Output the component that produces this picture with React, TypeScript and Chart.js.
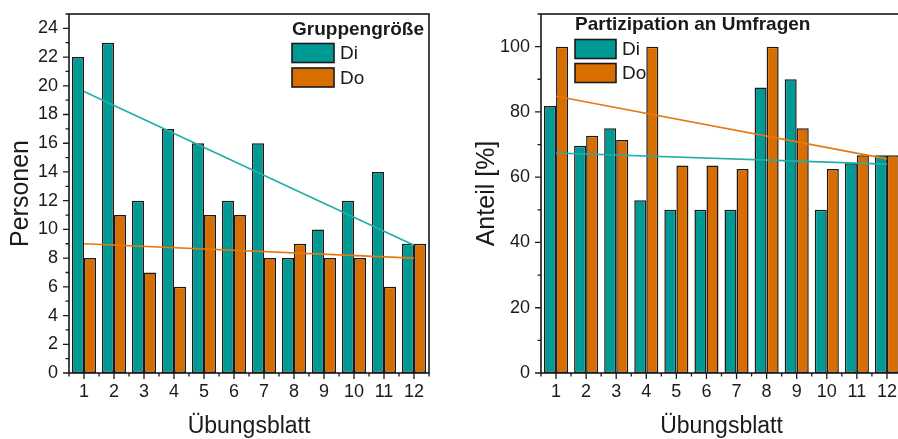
import React, { useEffect, useRef } from 'react';
import { Chart, registerables } from 'chart.js';

Chart.register(...registerables);

// ---------- data ----------
const categories = ['1', '2', '3', '4', '5', '6', '7', '8', '9', '10', '11', '12'];

const groupDi = [22, 23, 12, 17, 16, 12, 16, 8, 10, 12, 14, 9];
const groupDo = [8, 11, 7, 6, 11, 11, 8, 9, 8, 8, 6, 9];
// trend line end points (at sheet 1 and sheet 12)
const groupTrendDi = [19.6, 8.9];
const groupTrendDo = [9.0, 8.0];

const partDi = [81.8, 69.6, 75, 52.9, 50, 50, 50, 87.5, 90, 50, 64.3, 66.7];
const partDo = [100, 72.7, 71.4, 100, 63.6, 63.6, 62.5, 100, 75, 62.5, 66.7, 66.7];
const partTrendDi = [67.4, 64.0];
const partTrendDo = [84.8, 65.6];

const seriesNames = ['Di', 'Do'];
const leftTitle = 'Gruppengröße';
const rightTitle = 'Partizipation an Umfragen';
const xTitle = 'Übungsblatt';
const leftYTitle = 'Personen';
const rightYTitle = 'Anteil [%]';

// ---------- styles ----------
const TEAL = '#009A95';
const ORANGE = '#D96E00';
const TEAL_LINE = '#22ADA8';
const ORANGE_LINE = '#E57810';
const INK = '#1a1a1a';
const FONT = '"Liberation Sans", Arial, Helvetica, sans-serif';

function endpointSeries(ends: number[], n: number) {
  const arr: (number | null)[] = new Array(n).fill(null);
  arr[0] = ends[0];
  arr[n - 1] = ends[1];
  return arr;
}

const framePlugin = {
  id: 'frameTicks',
  afterDatasetsDraw(chart: any, _args: any, opts: any) {
    const { ctx, chartArea, scales } = chart;
    const { left, right, top, bottom } = chartArea;
    ctx.save();
    ctx.strokeStyle = INK;
    ctx.lineWidth = 1.6;
    ctx.strokeRect(left, top, right - left, bottom - top);
    ctx.lineWidth = 1.3;
    ctx.beginPath();
    const x = scales.x;
    const n = chart.data.labels.length;
    for (let i = 0; i < n; i++) {
      const px = x.getPixelForValue(i);
      ctx.moveTo(px, bottom);
      ctx.lineTo(px, bottom + 6);
    }
    const w = (right - left) / n;
    for (let i = 0; i <= n; i++) {
      const px = left + i * w;
      ctx.moveTo(px, bottom);
      ctx.lineTo(px, bottom + 3.5);
    }
    const y = scales.y;
    for (let v = 0; v <= y.max + 1e-9; v += opts.minor) {
      const py = y.getPixelForValue(v);
      const r = v / opts.major;
      const major = Math.abs(r - Math.round(r)) < 1e-6;
      ctx.moveTo(left, py);
      ctx.lineTo(left - (major ? 6 : 3.5), py);
    }
    ctx.stroke();
    ctx.restore();
  },
};

const legendPlugin = {
  id: 'boxLegend',
  afterDraw(chart: any, _args: any, opts: any) {
    const { ctx } = chart;
    ctx.save();
    ctx.fillStyle = INK;
    ctx.textBaseline = 'middle';
    ctx.textAlign = 'left';
    ctx.font = `bold 19px ${FONT}`;
    ctx.fillText(opts.title, opts.x, opts.titleY);
    const colors = [TEAL, ORANGE];
    opts.labels.forEach((lab: string, i: number) => {
      const by = opts.boxY + i * opts.rowH;
      ctx.fillStyle = colors[i];
      ctx.fillRect(opts.x, by, opts.boxW, opts.boxH);
      ctx.strokeStyle = INK;
      ctx.lineWidth = 1.6;
      ctx.strokeRect(opts.x, by, opts.boxW, opts.boxH);
      ctx.fillStyle = INK;
      ctx.font = `19px ${FONT}`;
      ctx.fillText(lab, opts.x + opts.boxW + 6, by + opts.boxH / 2 + 1);
    });
    ctx.restore();
  },
};

function makeConfig(p: {
  di: number[];
  do: number[];
  trendDi: number[];
  trendDo: number[];
  max: number;
  step: number;
  minor: number;
  yTitle: string;
  yTitlePad: number;
  yWidth: number;
  padRight: number;
  legend: any;
}) {
  const n = categories.length;
  return {
    type: 'bar',
    data: {
      labels: categories,
      datasets: [
        {
          type: 'line',
          label: 'Trend ' + seriesNames[0],
          data: endpointSeries(p.trendDi, n),
          borderColor: TEAL_LINE,
          borderWidth: 1.6,
          pointRadius: 0,
          spanGaps: true,
          order: 0,
        },
        {
          type: 'line',
          label: 'Trend ' + seriesNames[1],
          data: endpointSeries(p.trendDo, n),
          borderColor: ORANGE_LINE,
          borderWidth: 1.6,
          pointRadius: 0,
          spanGaps: true,
          order: 0,
        },
        {
          label: seriesNames[0],
          data: p.di,
          backgroundColor: TEAL,
          borderColor: INK,
          borderWidth: 1.5,
          borderSkipped: false,
          categoryPercentage: 0.8,
          barPercentage: 1.0,
          order: 1,
        },
        {
          label: seriesNames[1],
          data: p.do,
          backgroundColor: ORANGE,
          borderColor: INK,
          borderWidth: 1.5,
          borderSkipped: false,
          categoryPercentage: 0.8,
          barPercentage: 1.0,
          order: 1,
        },
      ],
    },
    options: {
      responsive: false,
      animation: false,
      devicePixelRatio: 1,
      layout: { padding: { left: 0, top: 14, right: p.padRight, bottom: 0 } },
      plugins: {
        legend: { display: false },
        tooltip: { enabled: false },
        frameTicks: { major: p.step, minor: p.minor },
        boxLegend: p.legend,
      },
      scales: {
        x: {
          offset: true,
          grid: { display: false, drawTicks: false },
          border: { display: false },
          ticks: { color: INK, font: { family: FONT, size: 18 }, padding: 8, maxRotation: 0, autoSkip: false },
          title: {
            display: true,
            text: xTitle,
            color: INK,
            font: { family: FONT, size: 23 },
            padding: { top: 0, bottom: -1 },
          },
          afterFit: (s: any) => {
            s.height = 66;
            s.paddingLeft = 0;
            s.paddingRight = 0;
          },
        },
        y: {
          min: 0,
          max: p.max,
          grid: { display: false, drawTicks: false },
          border: { display: false },
          ticks: {
            stepSize: p.step,
            includeBounds: false,
            color: INK,
            font: { family: FONT, size: 18 },
            padding: 11,
            callback: (v: any) => (v % p.step === 0 ? String(v) : ''),
          },
          title: {
            display: true,
            text: p.yTitle,
            color: INK,
            font: { family: FONT, size: 25 },
            padding: { top: p.yTitlePad, bottom: 0 },
          },
          afterFit: (s: any) => {
            s.width = p.yWidth;
            s.paddingTop = 0;
            s.paddingBottom = 0;
          },
        },
      },
    },
    plugins: [framePlugin, legendPlugin],
  };
}

function ChartCanvas({ config, width, height, left }: any) {
  const ref = useRef<HTMLCanvasElement | null>(null);
  useEffect(() => {
    if (!ref.current) return;
    const chart = new Chart(ref.current, config as any);
    return () => chart.destroy();
  }, []);
  return (
    <canvas
      ref={ref}
      width={width}
      height={height}
      style={{ position: 'absolute', left, top: 0, width, height }}
    />
  );
}

export default function App() {
  const leftConfig = makeConfig({
    di: groupDi,
    do: groupDo,
    trendDi: groupTrendDi,
    trendDo: groupTrendDo,
    max: 25,
    step: 2,
    minor: 1,
    yTitle: leftYTitle,
    yTitlePad: 6,
    yWidth: 69,
    padRight: 21,
    legend: {
      title: leftTitle,
      x: 292,
      titleY: 30,
      boxY: 43.5,
      rowH: 24.5,
      boxW: 42,
      boxH: 19,
      labels: seriesNames,
    },
  });
  const rightConfig = makeConfig({
    di: partDi,
    do: partDo,
    trendDi: partTrendDi,
    trendDo: partTrendDo,
    max: 110,
    step: 20,
    minor: 10,
    yTitle: rightYTitle,
    yTitlePad: 22,
    yWidth: 91,
    padRight: 18,
    legend: {
      title: rightTitle,
      x: 125,
      titleY: 25,
      boxY: 39.5,
      rowH: 24,
      boxW: 41,
      boxH: 19,
      labels: seriesNames,
    },
  });
  return (
    <div
      style={{
        position: 'fixed',
        left: 0,
        top: 0,
        width: 898,
        height: 439,
        overflow: 'hidden',
        background: '#fff',
      }}
    >
      <ChartCanvas config={leftConfig} width={450} height={439} left={0} />
      <ChartCanvas config={rightConfig} width={470} height={439} left={450} />
    </div>
  );
}
